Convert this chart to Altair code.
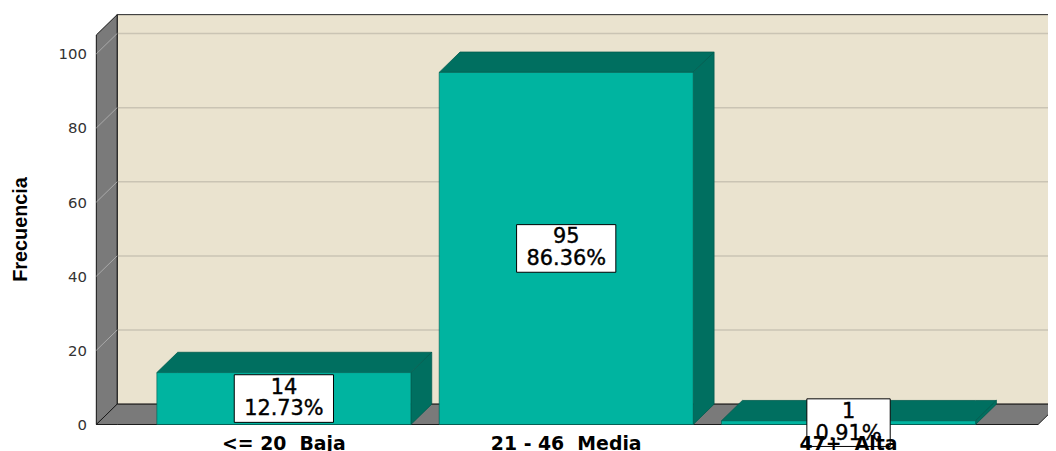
import altair as alt
import pandas as pd

# ---- data ----
categories = ["<= 20\u00a0 Baja", "21 - 46\u00a0 Media", "47+\u00a0 Alta"]
counts = [14, 95, 1]
percents = ["12.73%", "86.36%", "0.91%"]
tick_values = [0, 20, 40, 60, 80, 100]

# ---- style / geometry constants ----
PLOT_W = 951
PLOT_H = 413
PX_PER_Y = 3.735
Y_MAX = PLOT_H / PX_PER_Y
DX = 21.0                 # depth in x (x units == px)
DY = 20.5 / PX_PER_Y      # depth in y units
WALL_TOP = Y_MAX - DY
FLOOR_W = 949.0
BACK_END = FLOOR_W + DX + 40
BAR_W = 256.0
BAR_X0 = 61.0
BAR_STEP = 284.5
BOX_H = 48.0
CHAR_W = 16.0

FRONT = "#00B4A0"
DARK = "#006F60"
EDGE = "#005C50"
WALL = "#7A7A7A"
BACK = "#EAE3CF"
GRID = "#CAC4B4"

xs = alt.Scale(domain=[0, PLOT_W], nice=False, zero=False)
ys = alt.Scale(domain=[0, Y_MAX], nice=False, zero=False)

y_axis = alt.Axis(values=tick_values, domain=False, ticks=False, grid=False,
                  labelFont="DejaVu Sans", labelFontSize=15, labelColor="#333333",
                  labelPadding=10, title="Frecuencia", titleFont="Liberation Sans",
                  titleFontSize=20, titleFontWeight="bold", titleColor="#000000",
                  titleAngle=270, titleX=-76, titleY=216, titleAlign="center",
                  titleBaseline="middle")


def X(f):
    return alt.X(f, type="quantitative", scale=xs, axis=None)


def X2(f):
    return alt.X2(f)


def Y(f):
    return alt.Y(f, type="quantitative", scale=ys, axis=y_axis, title="Frecuencia")


def Y2(f):
    return alt.Y2(f)


# ---- tables built from the arrays ----
bars = pd.DataFrame({"cat": categories, "count": counts, "pct": percents})
bars["i"] = range(len(bars))
bars["x0"] = BAR_X0 + bars["i"] * BAR_STEP
bars["x1"] = bars["x0"] + BAR_W
bars["cx"] = (bars["x0"] + bars["x1"]) / 2
bars["zero"] = 0.0
bars["half"] = bars["count"] / 2
bars["label"] = bars["count"].astype(str) + "\n" + bars["pct"]
bars["bw"] = [CHAR_W * max(len(str(c)), len(p)) + 4 for c, p in zip(counts, percents)]
bars["bx0"] = bars["cx"] - bars["bw"] / 2
bars["bx1"] = bars["cx"] + bars["bw"] / 2
bars["by0"] = bars["half"] - BOX_H / 2 / PX_PER_Y
bars["by1"] = bars["half"] + BOX_H / 2 / PX_PER_Y

top_rows, side_rows = [], []
for _, r in bars.iterrows():
    v = r["count"]
    top_rows += [
        {"b": r["i"], "x": r["x0"], "y": v, "y2": v},
        {"b": r["i"], "x": r["x0"] + DX, "y": v, "y2": v + DY},
        {"b": r["i"], "x": r["x1"], "y": v, "y2": v + DY},
        {"b": r["i"], "x": r["x1"] + DX, "y": v + DY, "y2": v + DY},
    ]
    side_rows += [
        {"b": r["i"], "x": r["x1"], "y": 0.0, "y2": v},
        {"b": r["i"], "x": r["x1"] + DX, "y": DY, "y2": v + DY},
    ]
tops = pd.DataFrame(top_rows)
sides = pd.DataFrame(side_rows)

back = pd.DataFrame({"x": [DX], "x2": [BACK_END], "y": [DY], "y2": [Y_MAX]})
leftwall = pd.DataFrame({"x": [0.0, DX], "y": [0.0, DY], "y2": [WALL_TOP, WALL_TOP + DY]})
floor = pd.DataFrame({"x": [0.0, DX, FLOOR_W, FLOOR_W + DX],
                      "y": [0.0, 0.0, 0.0, DY], "y2": [0.0, DY, DY, DY]})
grid = pd.DataFrame({"v": [t for t in tick_values if t > 0]})
grid["x"] = DX
grid["x2"] = BACK_END
grid["yb"] = grid["v"] + DY
grid["x0"] = 0.0

# ---- layers ----
back_layer = alt.Chart(back).mark_rect(fill=BACK, stroke="#222222", strokeWidth=1).encode(
    x=X("x"), x2=X2("x2"), y=Y("y"), y2=Y2("y2"))

grid_layer = alt.Chart(grid).mark_rule(color=GRID, strokeWidth=1.5).encode(
    x=X("x"), x2=X2("x2"), y=Y("yb"))

left_layer = alt.Chart(leftwall).mark_area(fill=WALL, stroke="#111111", strokeWidth=1).encode(
    x=X("x"), y=Y("y"), y2=Y2("y2"))

diag_layer = alt.Chart(grid).mark_rule(color="#A9A9A9", strokeWidth=1).encode(
    x=X("x0"), x2=X2("x"), y=Y("v"), y2=Y2("yb"))

floor_layer = alt.Chart(floor).mark_area(fill=WALL, stroke="#1a1a1a", strokeWidth=1).encode(
    x=X("x"), y=Y("y"), y2=Y2("y2"))

top_layer = alt.Chart(tops).mark_area(fill=DARK, stroke=EDGE, strokeWidth=0.8).encode(
    x=X("x"), y=Y("y"), y2=Y2("y2"), detail="b:N")

side_layer = alt.Chart(sides).mark_area(fill=DARK, stroke=EDGE, strokeWidth=0.8).encode(
    x=X("x"), y=Y("y"), y2=Y2("y2"), detail="b:N")

front_layer = alt.Chart(bars).mark_rect(fill=FRONT, stroke=EDGE, strokeWidth=0.6).encode(
    x=X("x0"), x2=X2("x1"), y=Y("zero"), y2=Y2("count"))

box_layer = alt.Chart(bars).mark_rect(fill="white", stroke="#000000", strokeWidth=1).encode(
    x=X("bx0"), x2=X2("bx1"), y=Y("by0"), y2=Y2("by1"))

box_text = alt.Chart(bars).mark_text(
    lineBreak="\n", font="DejaVu Sans", fontSize=21, lineHeight=22, dy=-11,
    baseline="middle", align="center", color="#000000",
    stroke="#000000", strokeWidth=0.4).encode(
    x=X("cx"), y=Y("half"), text="label:N")

xlab = alt.Chart(bars).mark_text(font="DejaVu Sans", fontSize=19, fontWeight="bold",
                                 baseline="middle", align="center", dy=20,
                                 color="#000000").encode(
    x=X("cx"), y=Y("zero"), text="cat:N")

chart = alt.layer(
    back_layer, grid_layer, left_layer, diag_layer, floor_layer,
    top_layer, side_layer, front_layer, box_layer, box_text, xlab
).properties(
    width=PLOT_W, height=PLOT_H,
    autosize=alt.AutoSizeParams(type="none"),
    padding={"left": 89, "top": 5, "right": 8, "bottom": 25},
    background="white",
).configure_view(stroke=None)

chart.save("out.html", embed_options={"renderer": "svg", "actions": False})
